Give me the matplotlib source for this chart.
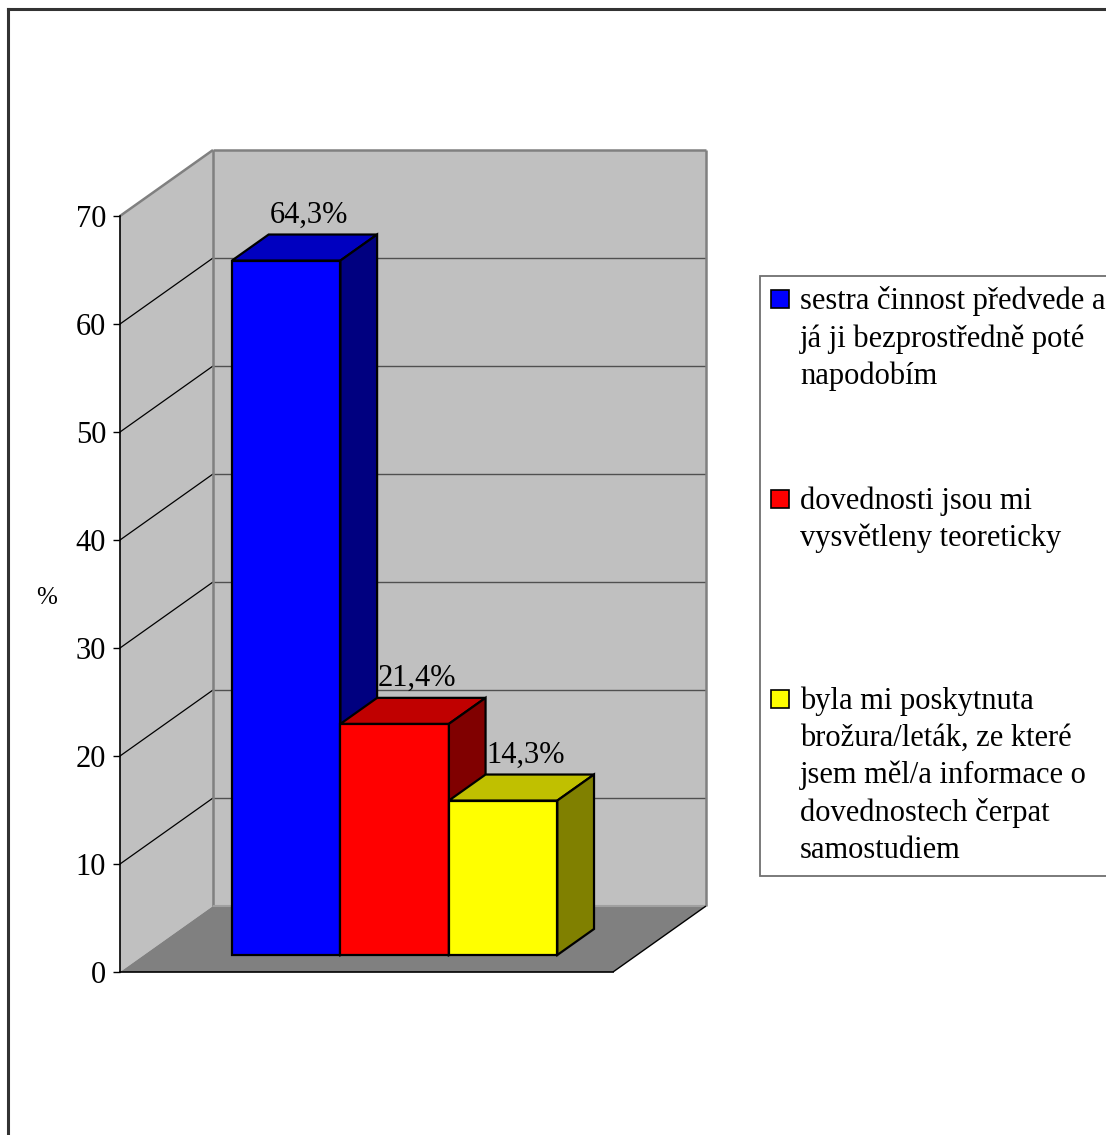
import numpy as np
import matplotlib.pyplot as plt
from matplotlib.patches import Polygon, Rectangle

plt.rcParams['font.family'] = ['Liberation Serif', 'DejaVu Serif']

# --- data ---
categories = [
    "sestra činnost předvede a\njá ji bezprostředně poté\nnapodobím",
    "dovednosti jsou mi\nvysvětleny teoreticky",
    "byla mi poskytnuta\nbrožura/leták, ze které\njsem měl/a informace o\ndovednostech čerpat\nsamostudiem",
]
values = [64.3, 21.4, 14.3]
y_ticks = [0, 10, 20, 30, 40, 50, 60, 70]
y_label = "%"

front_colors = ['#0000FF', '#FF0000', '#FFFF00']
top_colors = ['#0000C0', '#C00000', '#C0C000']
side_colors = ['#000080', '#800000', '#808000']

# --- figure / plot area (pixel layout) ---
W, H = 1106, 1135
fig = plt.figure(figsize=(W / 100, H / 100), dpi=100)
ax = fig.add_axes([120 / W, (H - 972) / H, 493 / W, 756 / H])
ax.set_xlim(0, 1)
ax.set_ylim(0, 70)

# depth offset of the 3D box, in data units
DX = 93 / 493
DY = 66 / (756 / 70)

def proj(x, y, d):
    return (x + d * DX, y + d * DY)

def poly(pts, fc, ec='none', lw=0, z=1):
    ax.add_patch(Polygon(pts, closed=True, facecolor=fc, edgecolor=ec,
                         linewidth=lw, zorder=z, clip_on=False))

def line(p0, p1, color, lw=1.0, z=2):
    ax.plot([p0[0], p1[0]], [p0[1], p1[1]], color=color, lw=lw, zorder=z,
            clip_on=False, solid_capstyle='butt')

ymax = y_ticks[-1]

# walls and floor
poly([proj(0, 0, 1), proj(1, 0, 1), proj(1, ymax, 1), proj(0, ymax, 1)], '#C0C0C0', z=0.5)
poly([proj(0, 0, 0), proj(0, 0, 1), proj(0, ymax, 1), proj(0, ymax, 0)], '#C0C0C0', z=0.5)
poly([proj(0, 0, 0), proj(1, 0, 0), proj(1, 0, 1), proj(0, 0, 1)], '#808080', z=0.6)

for v in y_ticks[1:-1]:
    line(proj(0, v, 1), proj(1, v, 1), '#505050', lw=1.0, z=0.7)
    line(proj(0, v, 0), proj(0, v, 1), 'black', lw=0.9, z=0.7)

wall_edge = '#808080'
line(proj(0, ymax, 1), proj(1, ymax, 1), wall_edge, lw=1.8, z=0.8)
line(proj(1, 0, 1), proj(1, ymax, 1), wall_edge, lw=1.8, z=0.8)
line(proj(0, 0, 1), proj(0, ymax, 1), wall_edge, lw=1.8, z=0.8)
line(proj(0, 0, 1), proj(1, 0, 1), '#A0A0A0', lw=1.5, z=0.8)
line(proj(0, ymax, 0), proj(0, ymax, 1), wall_edge, lw=1.8, z=0.8)
line(proj(1, 0, 0), proj(1, 0, 1), 'black', lw=1.0, z=0.8)

# 3D bars
d1, d2 = 0.258, 0.652
bar_w = 0.22
group_left = 0.1785
for i, v in enumerate(values):
    x0 = group_left + i * bar_w
    x1 = x0 + bar_w
    poly([proj(x0, 0, d1), proj(x1, 0, d1), proj(x1, v, d1), proj(x0, v, d1)],
         front_colors[i], 'black', 1.6, z=3 + i)
    poly([proj(x0, v, d1), proj(x1, v, d1), proj(x1, v, d2), proj(x0, v, d2)],
         top_colors[i], 'black', 1.6, z=3 + i)
    poly([proj(x1, 0, d1), proj(x1, 0, d2), proj(x1, v, d2), proj(x1, v, d1)],
         side_colors[i], 'black', 1.6, z=3 + i)
    lx, ly = proj(x0 + bar_w / 2, v, 0.5)
    ax.text(lx, v + 3.5 + d1 * DY, f"{v:.1f}%".replace('.', ','), ha='center',
            va='baseline', fontsize=22, color='black', zorder=10, clip_on=False)

# axes
for s in ['top', 'right']:
    ax.spines[s].set_visible(False)
ax.spines['left'].set_color('black')
ax.spines['left'].set_linewidth(1.2)
ax.spines['bottom'].set_color('black')
ax.spines['bottom'].set_linewidth(1.2)
ax.spines['left'].set_zorder(2)
ax.spines['bottom'].set_zorder(2)
ax.set_xticks([])
ax.set_yticks(y_ticks)
ax.tick_params(axis='y', length=5, width=1, pad=5, labelsize=22, color='black')
ax.set_ylabel(y_label, rotation=0, fontsize=18, ha='center', va='center')
ax.yaxis.set_label_coords((47 - 120) / 493, (972 - 598) / 756)
ax.patch.set_visible(False)

# overlay in pixel coordinates for the legend and the outer frame
ov = fig.add_axes([0, 0, 1, 1], zorder=5)
ov.set_xlim(0, W)
ov.set_ylim(H, 0)
ov.axis('off')
ov.patch.set_visible(False)

ov.plot([8, 8], [H + 5, 9], color='#333333', lw=2.2, clip_on=False)
ov.plot([8, W + 5], [9, 9], color='#333333', lw=2.2, clip_on=False)

ov.add_patch(Rectangle((760, 276), 400, 600, facecolor='white', edgecolor='#707070',
                       lw=1.3, clip_on=False))
for i, lab in enumerate(categories):
    top = 290 + i * 200
    ov.add_patch(Rectangle((771, top), 18, 18, facecolor=front_colors[i],
                           edgecolor='black', lw=1.2))
    ov.text(800, 286 + i * 200, lab, ha='left', va='top', fontsize=22,
            linespacing=1.36, color='black')

fig.savefig('out.png', dpi=100)
